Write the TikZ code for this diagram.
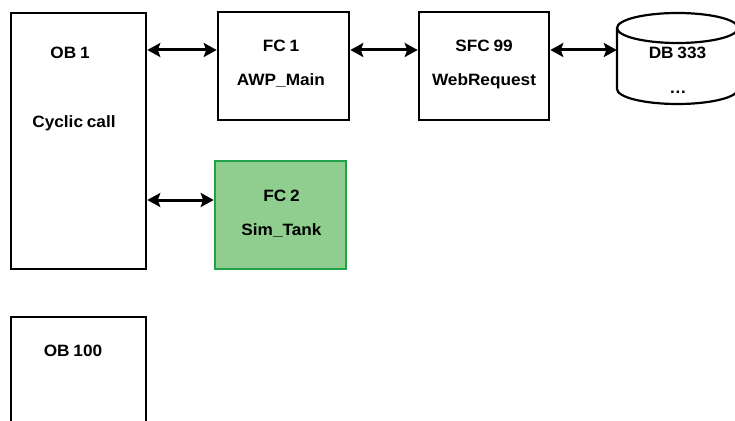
\documentclass[tikz,border=0pt]{standalone}
\usepackage{fontspec}
\setmainfont{Liberation Sans}[FakeStretch=1.05,WordSpace=0.8]
\usetikzlibrary{arrows.meta}
\definecolor{fcfill}{RGB}{143,206,143}
\definecolor{fcedge}{RGB}{36,162,74}
\tikzset{
  blockbox/.style={draw=black, line width=2.6pt, rectangle, inner sep=0pt},
  greenbox/.style={blockbox, draw=fcedge, fill=fcfill},
  lbl/.style={font=\fontsize{16.4}{19}\selectfont\bfseries, inner sep=0pt, anchor=base},
  link/.style={line width=3pt, {Stealth[length=13pt,width=14pt,inset=2.5pt]}-{Stealth[length=13pt,width=14pt,inset=2.5pt]}}
}
\begin{document}
\begin{tikzpicture}[x=1pt,y=-1pt]
  \clip (0,0) rectangle (735,420);
  \fill[white] (0,0) rectangle (735,420);

  % rows of the call arrows
  \coordinate (row1) at (0,50);
  \coordinate (row2) at (0,200);

  % organisation blocks
  \node[blockbox, minimum width=135pt, minimum height=256pt] (ob1) at (78.5,141) {};
  \node[blockbox, minimum width=135pt, minimum height=126pt] (ob100) at (78.5,380) {};

  % functions
  \node[blockbox, minimum width=131pt, minimum height=108pt] (fc1) at (283.5,66) {};
  \node[blockbox, minimum width=130pt, minimum height=108pt] (sfc) at (484,66) {};
  \node[greenbox, minimum width=131pt, minimum height=108pt] (fc2) at (280.5,215) {};

  % data block cylinder
  \node[inner sep=0pt, minimum width=121pt, minimum height=90pt] (db) at (677.5,59) {};
  \draw[line width=2.2pt] (617,28) -- (617,89)
      arc[start angle=180, end angle=360, x radius=60.5pt, y radius=15pt] -- (738,28);
  \draw[line width=2.2pt] (677.5,28) ellipse [x radius=60.5pt, y radius=15pt];

  % texts
  \node[lbl] (t-ob1) at (70,59) {OB 1};
  \node[lbl] (t-cyc) at (74,127) {Cyclic call};
  \node[lbl] (t-ob100) at (73,356.5) {OB 100};
  \node[lbl] (t-fc1) at (281,52) {FC 1};
  \node[lbl] (t-awp) at (281,85) {AWP\_Main};
  \node[lbl] (t-sfc) at (484,52) {SFC 99};
  \node[lbl] (t-web) at (484,85) {WebRequest};
  \node[lbl] (t-fc2) at (281.5,201.5) {FC 2};
  \node[lbl] (t-sim) at (281.5,235) {Sim\_Tank};
  \node[lbl] (t-db) at (677.5,59) {DB 333};
  \node[lbl] (t-dots) at (678,93) {…};

  % calls
  \draw[link] (ob1.east |- row1) -- (fc1.west |- row1);
  \draw[link] (fc1.east |- row1) -- (sfc.west |- row1);
  \draw[link] (sfc.east |- row1) -- (db.west |- row1);
  \draw[link] (ob1.east |- row2) -- (fc2.west |- row2);
\end{tikzpicture}
\end{document}
